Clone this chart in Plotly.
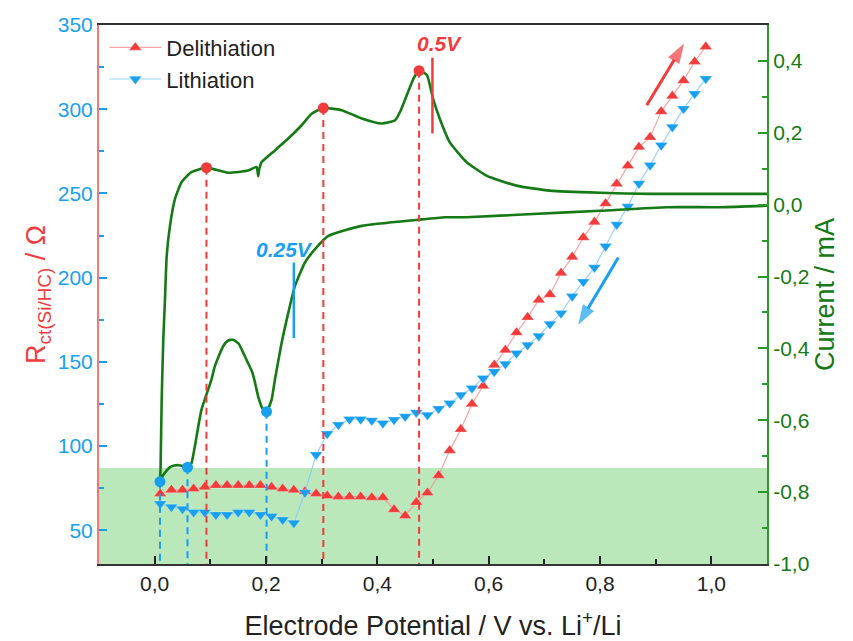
import plotly.graph_objects as go

# ---------------- data ----------------
# Rct during delithiation (red) and lithiation (blue), potential in V
deli_potential = [0.01, 0.03, 0.05, 0.07, 0.09, 0.11, 0.13, 0.15, 0.17, 0.19,
                  0.21, 0.23, 0.25, 0.27, 0.29, 0.31, 0.33, 0.35, 0.37, 0.39,
                  0.41, 0.43, 0.45, 0.47, 0.49, 0.51, 0.53, 0.55, 0.57, 0.59,
                  0.61, 0.63, 0.65, 0.67, 0.69, 0.71, 0.73, 0.75, 0.77, 0.79,
                  0.81, 0.83, 0.85, 0.87, 0.89, 0.91, 0.93, 0.95, 0.97, 0.99]
deli_rct = [71.7, 74.0, 74.0, 74.7, 75.7, 76.7, 76.7, 76.7, 76.7, 76.7,
            75.7, 74.7, 74.0, 73.0, 71.7, 70.5, 70.0, 70.0, 70.0, 69.5,
            69.5, 62.3, 58.7, 66.6, 72.3, 82.6, 97.4, 110.0, 125.0, 135.7,
            148.2, 157.0, 167.4, 176.5, 186.7, 190.0, 202.8, 212.3, 223.8, 233.0,
            244.0, 255.7, 266.4, 277.5, 283.4, 298.6, 307.9, 317.0, 328.2, 337.1]

li_potential = [0.01, 0.03, 0.05, 0.07, 0.09, 0.11, 0.13, 0.15, 0.17, 0.19,
                0.21, 0.23, 0.25, 0.27, 0.29, 0.31, 0.33, 0.35, 0.37, 0.39,
                0.41, 0.43, 0.45, 0.47, 0.49, 0.51, 0.53, 0.55, 0.57, 0.59,
                0.61, 0.63, 0.65, 0.67, 0.69, 0.71, 0.73, 0.75, 0.77, 0.79,
                0.81, 0.83, 0.85, 0.87, 0.89, 0.91, 0.93, 0.95, 0.97, 0.99]
li_rct = [65.8, 63.9, 62.7, 60.7, 60.7, 59.3, 59.3, 60.7, 60.7, 59.3,
          58.3, 56.3, 54.4, 72.5, 94.8, 107.3, 112.6, 116.0, 116.0, 115.2,
          113.6, 115.6, 117.5, 120.0, 118.5, 122.2, 125.5, 130.4, 134.4, 140.3,
          144.2, 148.8, 155.1, 160.0, 165.4, 172.5, 178.8, 189.0, 197.5, 206.0,
          218.7, 231.5, 242.2, 255.9, 266.8, 278.6, 289.5, 300.3, 309.2, 318.1]

# Cyclic voltammogram (current in mA), cathodic sweep then anodic sweep
cv_potential = [1.10, 1.015, 0.92, 0.80, 0.68, 0.56, 0.521, 0.474, 0.372, 0.312,
                0.288, 0.270, 0.252, 0.240, 0.228, 0.216, 0.210, 0.201, 0.193, 0.186,
                0.179, 0.175, 0.162, 0.151, 0.141, 0.132, 0.123, 0.108, 0.102, 0.084,
                0.072, 0.066, 0.059, 0.051, 0.042, 0.035, 0.027, 0.015, 0.0095,
                0.0105, 0.0126, 0.0155, 0.0185, 0.0216, 0.0275, 0.0365, 0.0485, 0.0665, 0.093,
                0.132, 0.168, 0.183, 0.186, 0.188, 0.192, 0.216, 0.240, 0.264, 0.282,
                0.303, 0.336, 0.372, 0.408, 0.432, 0.442, 0.453, 0.465, 0.475, 0.489,
                0.500, 0.512, 0.530, 0.560, 0.596, 0.650, 0.710, 0.800, 0.890, 1.10]
cv_current = [-0.003, -0.007, -0.007, -0.017, -0.026, -0.035, -0.035, -0.042, -0.059, -0.087,
              -0.124, -0.161, -0.226, -0.301, -0.385, -0.487, -0.543, -0.576, -0.565, -0.534,
              -0.487, -0.465, -0.422, -0.387, -0.376, -0.378, -0.394, -0.450, -0.487, -0.571,
              -0.674, -0.720, -0.731, -0.727, -0.725, -0.726, -0.731, -0.753, -0.771,
              -0.739, -0.543, -0.375, -0.264, -0.143, -0.059, 0.016, 0.063, 0.091, 0.103,
              0.089, 0.095, 0.105, 0.079, 0.100, 0.118, 0.151, 0.184, 0.221, 0.253,
              0.269, 0.263, 0.240, 0.226, 0.235, 0.262, 0.305, 0.351, 0.373, 0.361,
              0.295, 0.240, 0.174, 0.119, 0.081, 0.053, 0.039, 0.033, 0.030, 0.030]

# CV peaks (oxidation: red, reduction: blue)
ox_peak_potential = [0.093, 0.303, 0.475]
ox_peak_current = [0.103, 0.269, 0.373]
red_peak_potential = [0.0095, 0.059, 0.201]
red_peak_current = [-0.771, -0.731, -0.576]

# tick labels
x_ticks = [0.0, 0.2, 0.4, 0.6, 0.8, 1.0]
x_ticktext = ["0,0", "0,2", "0,4", "0,6", "0,8", "1,0"]
r_ticks = [50, 100, 150, 200, 250, 300, 350]
r_ticktext = ["50", "100", "150", "200", "250", "300", "350"]
i_ticks = [-1.0, -0.8, -0.6, -0.4, -0.2, 0.0, 0.2, 0.4]
i_ticktext = ["-1,0", "-0,8", "-0,6", "-0,4", "-0,2", "0,0", "0,2", "0,4"]

# annotation anchors
marker_05_potential = [0.499, 0.499]
marker_05_current = [0.198, 0.409]
marker_025_potential = [0.250, 0.250]
marker_025_current = [-0.161, -0.371]
arrow_deli_potential = [0.884, 0.951]
arrow_deli_rct = [302.3, 339.0]
arrow_li_potential = [0.833, 0.761]
arrow_li_rct = [212.0, 172.0]

RED = "#f23c3c"
BLUE = "#199ff0"
GREEN = "#157a15"
AXGREEN = "#2a9a2a"
FONT = "Liberation Sans, Arial, sans-serif"

fig = go.Figure()

# CV curve
fig.add_trace(go.Scatter(x=cv_potential, y=cv_current, yaxis="y2", mode="lines",
                         line=dict(color=GREEN, width=2.6, shape="spline", smoothing=0.5),
                         showlegend=False, hoverinfo="skip"))

# dashed drop lines from the peaks
for xv, yv in zip(ox_peak_potential, ox_peak_current):
    fig.add_trace(go.Scatter(x=[xv, xv], y=[yv, -1.0], yaxis="y2", mode="lines",
                             line=dict(color=RED, width=2, dash="7px,5px"),
                             showlegend=False, hoverinfo="skip"))
for xv, yv in zip(red_peak_potential, red_peak_current):
    fig.add_trace(go.Scatter(x=[xv, xv], y=[yv, -1.0], yaxis="y2", mode="lines",
                             line=dict(color=BLUE, width=2, dash="7px,5px"),
                             showlegend=False, hoverinfo="skip"))

# short solid markers at 0.5 V and 0.25 V
fig.add_trace(go.Scatter(x=marker_05_potential, y=marker_05_current, yaxis="y2", mode="lines",
                         line=dict(color=RED, width=2.5), showlegend=False, hoverinfo="skip"))
fig.add_trace(go.Scatter(x=marker_025_potential, y=marker_025_current, yaxis="y2", mode="lines",
                         line=dict(color=BLUE, width=2.5), showlegend=False, hoverinfo="skip"))

# Rct series
fig.add_trace(go.Scatter(x=deli_potential, y=deli_rct, mode="lines+markers", name="Delithiation",
                         line=dict(color="rgba(250,140,140,0.8)", width=1.2),
                         marker=dict(symbol="triangle-up", size=11, color=RED,
                                     line=dict(color="rgba(255,255,255,0.5)", width=0.5))))
fig.add_trace(go.Scatter(x=li_potential, y=li_rct, mode="lines+markers", name="Lithiation",
                         line=dict(color="rgba(130,200,250,0.8)", width=1.2),
                         marker=dict(symbol="triangle-down", size=11, color=BLUE,
                                     line=dict(color="rgba(255,255,255,0.5)", width=0.5))))

# peak circles
fig.add_trace(go.Scatter(x=ox_peak_potential, y=ox_peak_current, yaxis="y2", mode="markers",
                         marker=dict(symbol="circle", size=11, color=RED),
                         showlegend=False, hoverinfo="skip"))
fig.add_trace(go.Scatter(x=red_peak_potential, y=red_peak_current, yaxis="y2", mode="markers",
                         marker=dict(symbol="circle", size=11, color=BLUE),
                         showlegend=False, hoverinfo="skip"))

# direction arrows
for ax_, ay_, col in [(arrow_deli_potential, arrow_deli_rct, RED),
                      (arrow_li_potential, arrow_li_rct, BLUE)]:
    fig.add_trace(go.Scatter(x=ax_, y=ay_, mode="lines+markers",
                             line=dict(color=col, width=3),
                             marker=dict(symbol=["circle", "arrow"], size=[0, 21], color=col,
                                         angleref="previous", line=dict(width=0)),
                             showlegend=False, hoverinfo="skip"))

fig.update_layout(
    width=853, height=641,
    margin=dict(l=99, r=86, t=25, b=77, autoexpand=False),
    paper_bgcolor="white", plot_bgcolor="white",
    font=dict(family=FONT, size=21, color="#222"),
    separators=",.",
    showlegend=True,
    legend=dict(x=0.008, y=0.997, xanchor="left", yanchor="top",
                bgcolor="rgba(0,0,0,0)", font=dict(size=22, color="#222"),
                itemwidth=52, tracegroupgap=0),
    xaxis=dict(range=[-0.1, 1.1], tickvals=x_ticks, ticktext=x_ticktext, automargin=False,
               ticks="inside", ticklen=8, tickwidth=1.5, tickcolor="#222",
               minor=dict(ticks="inside", ticklen=5, dtick=0.1, tick0=0, tickcolor="#222"),
               showline=True, linecolor="#333", linewidth=2, mirror=True,
               showgrid=False, zeroline=False,
               tickfont=dict(size=21, color="#222"),
               title=dict(text="Electrode Potential / V vs. Li<sup>+</sup>/Li",
                          font=dict(size=27, color="#222"), standoff=24)),
    yaxis=dict(range=[30, 350], tickvals=r_ticks, ticktext=r_ticktext, automargin=False,
               ticks="inside", ticklen=8, tickwidth=1.5, tickcolor=BLUE,
               minor=dict(ticks="inside", ticklen=5, dtick=25, tick0=0, tickcolor=BLUE),
               showline=True, linecolor="#f47878", linewidth=2,
               showgrid=False, zeroline=False,
               tickfont=dict(size=21, color=BLUE),
               title=dict(text="R<sub>ct(Si/HC)</sub> / Ω", font=dict(size=27, color=RED),
                          standoff=4)),
    yaxis2=dict(range=[-1.0, 0.5], overlaying="y", side="right", automargin=False,
                tickvals=i_ticks, ticktext=i_ticktext,
                ticks="inside", ticklen=9, tickwidth=1.5, tickcolor=AXGREEN,
                minor=dict(ticks="inside", ticklen=5, dtick=0.1, tick0=0, tickcolor=AXGREEN),
                showline=True, linecolor=AXGREEN, linewidth=2,
                showgrid=False, zeroline=False,
                tickfont=dict(size=21, color=GREEN),
                title=dict(text="Current / mA", font=dict(size=27, color=GREEN), standoff=3)),
    shapes=[dict(type="rect", xref="paper", x0=0, x1=1, yref="y", y0=30, y1=87,
                 fillcolor="rgba(120,210,120,0.5)", line=dict(width=0), layer="below")],
    annotations=[
        dict(x=0.512, y=339, xref="x", yref="y", text="<b><i>0.5V</i></b>", showarrow=False,
             font=dict(size=21, color=RED)),
        dict(x=0.234, y=217, xref="x", yref="y", text="<b><i>0.25V</i></b>", showarrow=False,
             font=dict(size=21, color=BLUE)),
    ],
)

fig.write_html("out.html")
